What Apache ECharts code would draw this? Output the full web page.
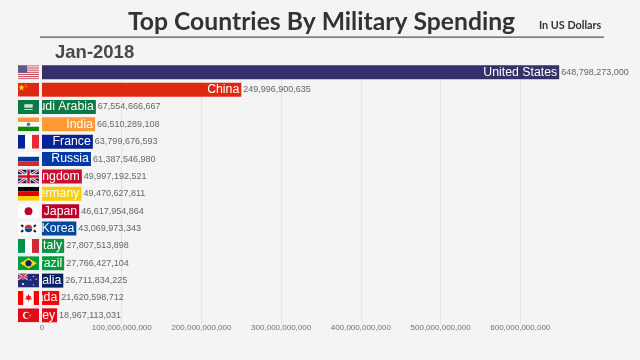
<!DOCTYPE html>
<html>
<head>
<meta charset="utf-8">
<style>
  html, body { margin: 0; padding: 0; background: #f4f4f4; }
  #main { width: 640px; height: 360px; }
</style>
<script src="https://cdn.jsdelivr.net/npm/echarts@6/dist/echarts.min.js"></script>
</head>
<body>
<div id="main"></div>
<script>
  const period = 'Jan-2018';
  const countries = ['United States', 'China', 'Saudi Arabia', 'India', 'France', 'Russia', 'United Kingdom', 'Germany', 'Japan', 'South Korea', 'Italy', 'Brazil', 'Australia', 'Canada', 'Turkey'];
  const spending = [648798273000, 249996900635, 67554666667, 66510289108, 63799676593, 61387546980, 49997192521, 49470627811, 46617954864, 43069973343, 27807513898, 27766427104, 26711834225, 21620598712, 18967113031];
  const barColors = ['#34306c', '#de2910', '#0a7a45', '#ff9933', '#002395', '#0039a6', '#c8102e', '#ffcc00', '#bc002d', '#0047a0', '#0a9245', '#009c3b', '#012169', '#ff0000', '#e30a17'];

  const BG = '#f4f4f4';

  // small hand made flags, 30x20
  const usStripes = [0, 2, 4, 6, 8, 10, 12].map(i => `<rect y="${i * 20 / 13}" width="30" height="${20 / 13}" fill="#c8485a"/>`).join('');
  const flags = [
    `<rect width="30" height="20" fill="#fff"/>${usStripes}<rect width="13" height="10.8" fill="#5b5b90"/>`,
    `<rect width="30" height="20" fill="#de2910"/><polygon points="5,2 6.2,5.6 9.6,5.6 6.9,7.8 7.9,11.2 5,9.2 2.1,11.2 3.1,7.8 .4,5.6 3.8,5.6" fill="#ffde00"/><circle cx="11" cy="3" r=".8" fill="#ffde00"/><circle cx="12.5" cy="6" r=".8" fill="#ffde00"/>`,
    `<rect width="30" height="20" fill="#0a7a45"/><rect x="9" y="6" width="12" height="5" fill="#cfe5d8"/><rect x="9" y="13" width="12" height="1.2" fill="#e6f1ea"/>`,
    `<rect width="30" height="20" fill="#fff"/><rect width="30" height="6.7" fill="#ff9933"/><rect y="13.3" width="30" height="6.7" fill="#138808"/><circle cx="15" cy="10" r="2.6" fill="#6a6aa8"/>`,
    `<rect width="30" height="20" fill="#fff"/><rect width="10" height="20" fill="#002395"/><rect x="20" width="10" height="20" fill="#ed2939"/>`,
    `<rect width="30" height="20" fill="#fff"/><rect y="6.7" width="30" height="6.7" fill="#0039a6"/><rect y="13.3" width="30" height="6.7" fill="#d52b1e"/>`,
    `<rect width="30" height="20" fill="#012169"/><path d="M0 0L30 20M30 0L0 20" stroke="#fff" stroke-width="4"/><path d="M0 0L30 20M30 0L0 20" stroke="#c8102e" stroke-width="1.5"/><path d="M15 0V20M0 10H30" stroke="#fff" stroke-width="6"/><path d="M15 0V20M0 10H30" stroke="#c8102e" stroke-width="3.6"/>`,
    `<rect width="30" height="6.7" fill="#000"/><rect y="6.7" width="30" height="6.7" fill="#dd0000"/><rect y="13.3" width="30" height="6.7" fill="#ffce00"/>`,
    `<rect width="30" height="20" fill="#fff"/><circle cx="15" cy="10" r="5.6" fill="#bc002d"/>`,
    `<rect width="30" height="20" fill="#fff"/><path d="M9.6 10a5.4 5.4 0 0 1 10.8 0z" fill="#cd2e3a"/><path d="M9.6 10a5.4 5.4 0 0 0 10.8 0z" fill="#0047a0"/><g stroke="#222" stroke-width="3"><path d="M4.5 5L7.5 7.5M22.5 7.5L25.5 5M4.5 15L7.5 12.5M22.5 12.5L25.5 15"/></g>`,
    `<rect width="30" height="20" fill="#fff"/><rect width="10" height="20" fill="#009246"/><rect x="20" width="10" height="20" fill="#ce2b37"/>`,
    `<rect width="30" height="20" fill="#009c3b"/><polygon points="15,2.5 27,10 15,17.5 3,10" fill="#ffdf00"/><circle cx="15" cy="10" r="4.4" fill="#002776"/>`,
    `<rect width="30" height="20" fill="#1f2a78"/><rect width="14" height="9" fill="#4a3f7d"/><path d="M0 0L14 9M14 0L0 9" stroke="#fff" stroke-width="1.4"/><path d="M7 0V9M0 4.5H14" stroke="#e0566a" stroke-width="2"/><g fill="#fff"><circle cx="7" cy="15" r="1.5"/><circle cx="22" cy="4" r=".9"/><circle cx="22" cy="16" r=".9"/><circle cx="18" cy="9" r=".9"/><circle cx="26" cy="8" r=".9"/></g>`,
    `<rect width="30" height="20" fill="#fff"/><rect width="7.5" height="20" fill="#ff0000"/><rect x="22.5" width="7.5" height="20" fill="#ff0000"/><polygon points="15,4.5 16.5,7.5 18.5,6.8 17.6,10.5 19.8,10.3 19.2,12 15.4,12.6 15.4,15 14.6,15 14.6,12.6 10.8,12 10.2,10.3 12.4,10.5 11.5,6.8 13.5,7.5" fill="#ff0000"/>`,
    `<rect width="30" height="20" fill="#e30a17"/><circle cx="12" cy="10" r="5" fill="#fff"/><circle cx="13.3" cy="10" r="4" fill="#e30a17"/><polygon points="16,10 19.6,8.8 18,10 19.6,11.2" fill="#fff"/>`
  ];
  const flagUrl = s => 'data:image/svg+xml;charset=utf-8,' + encodeURIComponent(
    `<svg xmlns="http://www.w3.org/2000/svg" width="60" height="40" viewBox="0 0 30 20">${s}</svg>`);

  let chart = echarts.init(document.getElementById('main'), null, { renderer: 'canvas' });

  let fmt = v => Number(v).toLocaleString('en-US');

  let option = {
    animation: false,
    backgroundColor: BG,
    textStyle: { fontFamily: '"Liberation Sans", Arial, sans-serif' },
    title: [
      {
        text: 'Top Countries By Military Spending',
        left: 128, top: 10, padding: 0,
        textStyle: { fontFamily: 'Lato', fontWeight: 'bold', fontSize: 24.7, color: '#333333' }
      },
      {
        text: 'In US Dollars',
        left: 539, top: 20, padding: 0,
        textStyle: { fontFamily: 'Lato', fontWeight: 'bold', fontSize: 10.8, color: '#333333' }
      },
      {
        text: period,
        left: 55, top: 43, padding: 0,
        textStyle: { fontFamily: '"Liberation Sans"', fontWeight: 'bold', fontSize: 18.5, color: '#484848' }
      }
    ],
    graphic: [{
      type: 'rect',
      shape: { x: 40, y: 36.5, width: 564, height: 1.2 },
      style: { fill: '#555555' }
    }],
    grid: { left: 42, top: 63.6, width: 558, height: 260.4, containLabel: false },
    xAxis: {
      type: 'value',
      min: 0,
      max: 700000000000,
      interval: 100000000000,
      axisLine: { show: false },
      axisTick: { show: false },
      axisLabel: {
        showMaxLabel: false,
        margin: 0,
        fontSize: 8,
        color: '#707070',
        formatter: fmt
      },
      splitLine: { show: true, showMinLine: false, showMaxLine: false, lineStyle: { color: '#e4e4e4', width: 1 } }
    },
    yAxis: {
      type: 'category',
      inverse: true,
      data: countries,
      axisLine: { show: false },
      axisTick: { show: false },
      axisLabel: { show: false }
    },
    series: [
      {
        type: 'bar',
        barWidth: 14,
        z: 2,
        data: spending.map((v, i) => ({ value: v, itemStyle: { color: barColors[i] } })),
        label: {
          show: true,
          position: 'insideRight',
          distance: 2,
          fontSize: 12.3,
          color: '#ffffff',
          formatter: p => countries[p.dataIndex]
        }
      },
      {
        type: 'bar',
        barWidth: 14,
        barGap: '-100%',
        z: 2,
        data: spending,
        itemStyle: { color: 'rgba(0,0,0,0)' },
        label: {
          show: true,
          position: 'right',
          distance: 2,
          fontSize: 9,
          color: '#666666',
          formatter: p => fmt(p.value)
        }
      },
      {
        // flags sit left of the axis and hide the part of a name that does not fit
        type: 'custom',
        z: 10,
        silent: true,
        encode: { x: 0, y: 1 },
        data: countries.map((c, i) => [0, i]),
        renderItem: (params, api) => {
          let p = api.coord([0, api.value(1)]);
          let rowH = api.size([0, 1])[1];
          return {
            type: 'group',
            children: [
              {
                type: 'rect',
                shape: { x: 0, y: p[1] - rowH / 2, width: p[0] - 1, height: rowH },
                style: { fill: BG }
              },
              {
                type: 'image',
                style: { image: flagUrl(flags[api.value(1)]), x: 18, y: p[1] - 7, width: 21, height: 14 }
              }
            ]
          };
        }
      }
    ]
  };
  chart.setOption(option);
</script>
</body>
</html>
